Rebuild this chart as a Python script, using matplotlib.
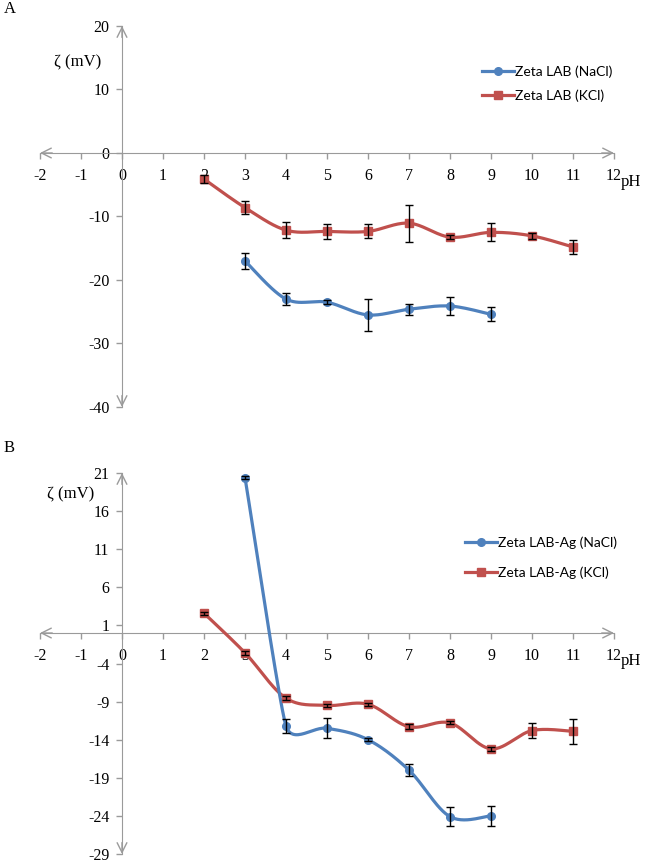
import numpy as np
import matplotlib
matplotlib.use('Agg')
import matplotlib.pyplot as plt
from matplotlib.lines import Line2D

# ---- data ----
ph = [2, 3, 4, 5, 6, 7, 8, 9, 10, 11]

# panel A (LAB)
a_nacl_ph = [3, 4, 5, 6, 7, 8, 9]
a_nacl = [-17.0, -23.0, -23.5, -25.5, -24.6, -24.1, -25.4]
a_nacl_err = [1.2, 0.95, 0.3, 2.5, 0.85, 1.45, 1.1]
a_kcl = [-4.1, -8.6, -12.15, -12.35, -12.35, -11.05, -13.25, -12.5, -13.05, -14.8]
a_kcl_err = [0.6, 1.0, 1.3, 1.15, 1.1, 2.9, 0.3, 1.4, 0.5, 1.1]

# panel B (LAB-Ag)
b_nacl_ph = [3, 4, 5, 6, 7, 8, 9]
b_nacl = [20.4, -12.2, -12.5, -14.0, -18.0, -24.1, -24.0]
b_nacl_err = [0.2, 0.9, 1.3, 0.2, 0.8, 1.25, 1.3]
b_kcl = [2.6, -2.6, -8.55, -9.5, -9.35, -12.3, -11.8, -15.2, -12.8, -12.9]
b_kcl_err = [0.2, 0.3, 0.3, 0.2, 0.2, 0.3, 0.2, 0.3, 1.0, 1.6]

a_yticks = [20, 10, 0, -10, -20, -30, -40]
b_yticks = [21, 16, 11, 6, 1, -4, -9, -14, -19, -24, -29]
xticks = list(range(-2, 13))

BLUE = '#4F81BD'
RED = '#C0504D'
GRAY = '#9A9A9A'
SERIF = 'Liberation Serif'
SANS = 'Lato'


def smooth(ax, x, y, n=30):
    # Excel-like smoothed line, built in screen space
    p = ax.transData.transform(np.column_stack([x, y]))
    m = len(p)
    ctrl_out = []
    ctrl_in = []
    for i in range(m):
        pa = p[i - 1] if i > 0 else p[i]
        pb = p[i + 1] if i < m - 1 else p[i]
        t = pb - pa
        d02 = np.hypot(*t)
        lens = []
        if i > 0:
            lens.append(np.hypot(*(p[i] - p[i - 1])))
        if i < m - 1:
            lens.append(np.hypot(*(p[i + 1] - p[i])))
        if d02 == 0:
            ctrl_out.append(p[i]); ctrl_in.append(p[i]); continue
        f = min(1 / 6, min(lens) / (2 * d02))
        ctrl_out.append(p[i] + t * f)
        ctrl_in.append(p[i] - t * f)
    pts = [p[0]]
    s = np.linspace(0, 1, n)[1:, None]
    for i in range(m - 1):
        b = ((1 - s) ** 3 * p[i] + 3 * (1 - s) ** 2 * s * ctrl_out[i]
             + 3 * (1 - s) * s ** 2 * ctrl_in[i + 1] + s ** 3 * p[i + 1])
        pts.extend(b)
    pts = ax.transData.inverted().transform(np.array(pts))
    return pts[:, 0], pts[:, 1]


def setup_axes(ax, ylim, yticks):
    ax.set_xlim(-2, 12)
    ax.set_ylim(*ylim)
    for s in ['top', 'right']:
        ax.spines[s].set_visible(False)
    ax.spines['left'].set_position(('data', 0))
    ax.spines['bottom'].set_position(('data', 0))
    ax.spines['left'].set_color(GRAY)
    ax.spines['bottom'].set_color(GRAY)
    ax.set_xticks(xticks)
    ax.set_yticks(yticks)
    ax.set_xticklabels([str(v) for v in xticks])
    ax.set_yticklabels([str(v) for v in yticks])
    ax.tick_params(axis='x', direction='out', length=4, width=1, color=GRAY,
                   pad=7, labelsize=11.5)
    ax.tick_params(axis='y', direction='out', length=4, width=1, color=GRAY,
                   pad=5, labelsize=11.5)
    for lab in ax.get_xticklabels() + ax.get_yticklabels():
        lab.set_fontfamily(SERIF)
    ax.patch.set_visible(False)
    arrow = dict(arrowstyle='->,head_length=0.5,head_width=0.25', color=GRAY,
                 lw=1, shrinkA=0, shrinkB=0, mutation_scale=14)
    ax.annotate('', xy=(12, 0), xytext=(11.7, 0), arrowprops=arrow, annotation_clip=False)
    ax.annotate('', xy=(-2, 0), xytext=(-1.7, 0), arrowprops=arrow, annotation_clip=False)
    span = ylim[1] - ylim[0]
    ax.annotate('', xy=(0, ylim[1]), xytext=(0, ylim[1] - span * 0.03), arrowprops=arrow, annotation_clip=False)
    ax.annotate('', xy=(0, ylim[0]), xytext=(0, ylim[0] + span * 0.03), arrowprops=arrow, annotation_clip=False)


def draw_series(ax, x, y, err, color, marker, ms):
    sx, sy = smooth(ax, x, y)
    ax.plot(sx, sy, color=color, lw=2.3, solid_capstyle='round', zorder=3, clip_on=False)
    ax.plot(x, y, linestyle='none', marker=marker, color=color, markersize=ms, zorder=4, clip_on=False)
    ax.errorbar(x, y, yerr=err, fmt='none', ecolor='black', elinewidth=1,
                capsize=2.8, capthick=1, zorder=5, clip_on=False)


fig = plt.figure(figsize=(6.5, 8.65), dpi=100)
W, H = 650.0, 865.0

axA = fig.add_axes([40 / W, 1 - 407 / H, 574 / W, (407 - 26) / H])
setup_axes(axA, (-40, 20), a_yticks)
draw_series(axA, ph, a_kcl, a_kcl_err, RED, 's', 5.5)
draw_series(axA, a_nacl_ph, a_nacl, a_nacl_err, BLUE, 'o', 5.5)

axB = fig.add_axes([40 / W, 1 - 854 / H, 574 / W, (854 - 473) / H])
setup_axes(axB, (-29, 21), b_yticks)
draw_series(axB, ph, b_kcl, b_kcl_err, RED, 's', 5.5)
draw_series(axB, b_nacl_ph, b_nacl, b_nacl_err, BLUE, 'o', 5.5)

# legends
def make_legend(ax, labels, x0, ytop, spacing):
    handles = [Line2D([], [], color=BLUE, lw=2.3, marker='o', markersize=5.5),
               Line2D([], [], color=RED, lw=2.3, marker='s', markersize=5.5)]
    ax.legend(handles, labels, loc='upper left', bbox_to_anchor=(x0 / W, 1 - ytop / H),
              bbox_transform=fig.transFigure, frameon=False, borderpad=0,
              borderaxespad=0, handlelength=2.3, handletextpad=0.1,
              labelspacing=spacing, prop={'family': SANS, 'size': 10})

make_legend(axA, ['Zeta LAB (NaCl)', 'Zeta LAB (KCl)'], 482, 65, 0.84)
make_legend(axB, ['Zeta LAB-Ag (NaCl)', 'Zeta LAB-Ag (KCl)'], 465, 536, 1.27)

# text labels
fig.text(4 / W, 1 - 9 / H, 'A', family=SERIF, fontsize=12, va='center', ha='left')
fig.text(4 / W, 1 - 448 / H, 'B', family=SERIF, fontsize=12, va='center', ha='left')
fig.text(78 / W, 1 - 62 / H, 'ζ (mV)', family=SERIF, fontsize=12, va='center', ha='center')
fig.text(71 / W, 1 - 494 / H, 'ζ (mV)', family=SERIF, fontsize=12, va='center', ha='center')
fig.text(631 / W, 1 - 182 / H, 'pH', family=SERIF, fontsize=12, va='center', ha='center')
fig.text(631 / W, 1 - 661 / H, 'pH', family=SERIF, fontsize=12, va='center', ha='center')

fig.savefig('out.png', dpi=100)
